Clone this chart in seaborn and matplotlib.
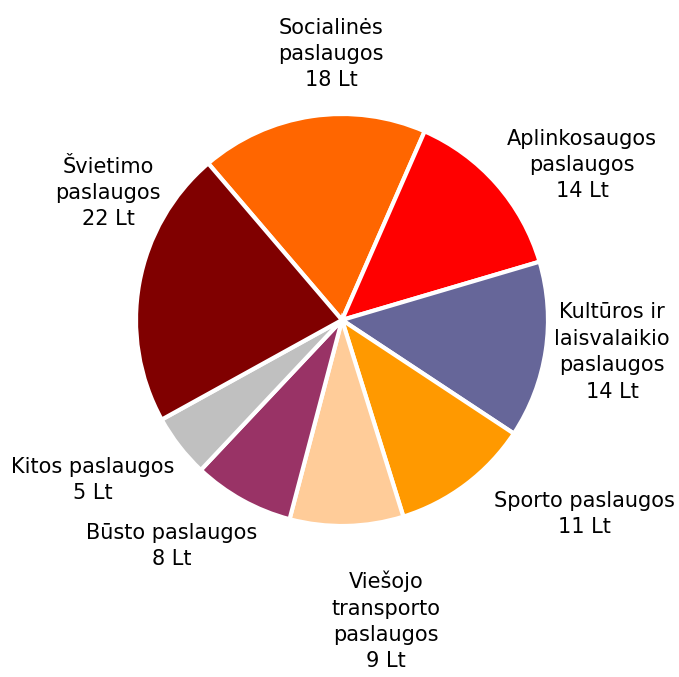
import matplotlib
matplotlib.use("Agg")
import matplotlib.pyplot as plt
import seaborn as sns

sns.set_theme(style="white")
plt.rcParams['font.family'] = ['DejaVu Sans']

categories = ["Socialinės\npaslaugos", "Aplinkosaugos\npaslaugos", "Kultūros ir\nlaisvalaikio\npaslaugos",
              "Sporto paslaugos", "Viešojo\ntransporto\npaslaugos", "Būsto paslaugos",
              "Kitos paslaugos", "Švietimo\npaslaugos"]
values = [18, 14, 14, 11, 9, 8, 5, 22]
value_labels = ["18 Lt", "14 Lt", "14 Lt", "11 Lt", "9 Lt", "8 Lt", "5 Lt", "22 Lt"]
colors = ["#FF6600", "#FF0000", "#666699", "#FF9900", "#FFCC99", "#993366", "#C0C0C0", "#800000"]

# label centers in pixel coordinates of the image
label_pos_px = [(331, 54), (582, 165), (612, 352), (584, 514), (386, 621), (172, 546), (93, 480), (108, 193)]

W, H = 679, 677
cx, cy, R = 342, 320, 206

fig = plt.figure(figsize=(W / 100, H / 100), dpi=100)
ax = fig.add_axes([0, 0, 1, 1])
ax.pie(values, colors=colors, startangle=130.5, counterclock=False, radius=1,
       wedgeprops=dict(edgecolor="white", linewidth=3))
ax.set_xlim(-cx / R, (W - cx) / R)
ax.set_ylim(-(H - cy) / R, cy / R)
ax.set_aspect("equal")
ax.axis("off")

for cat, vl, (px, py) in zip(categories, value_labels, label_pos_px):
    ax.text((px - cx) / R, (cy - py) / R, f"{cat}\n{vl}", ha="center", va="center",
            multialignment="center", fontsize=15, color="black", linespacing=1.4)

fig.savefig("out.png", dpi=100)
